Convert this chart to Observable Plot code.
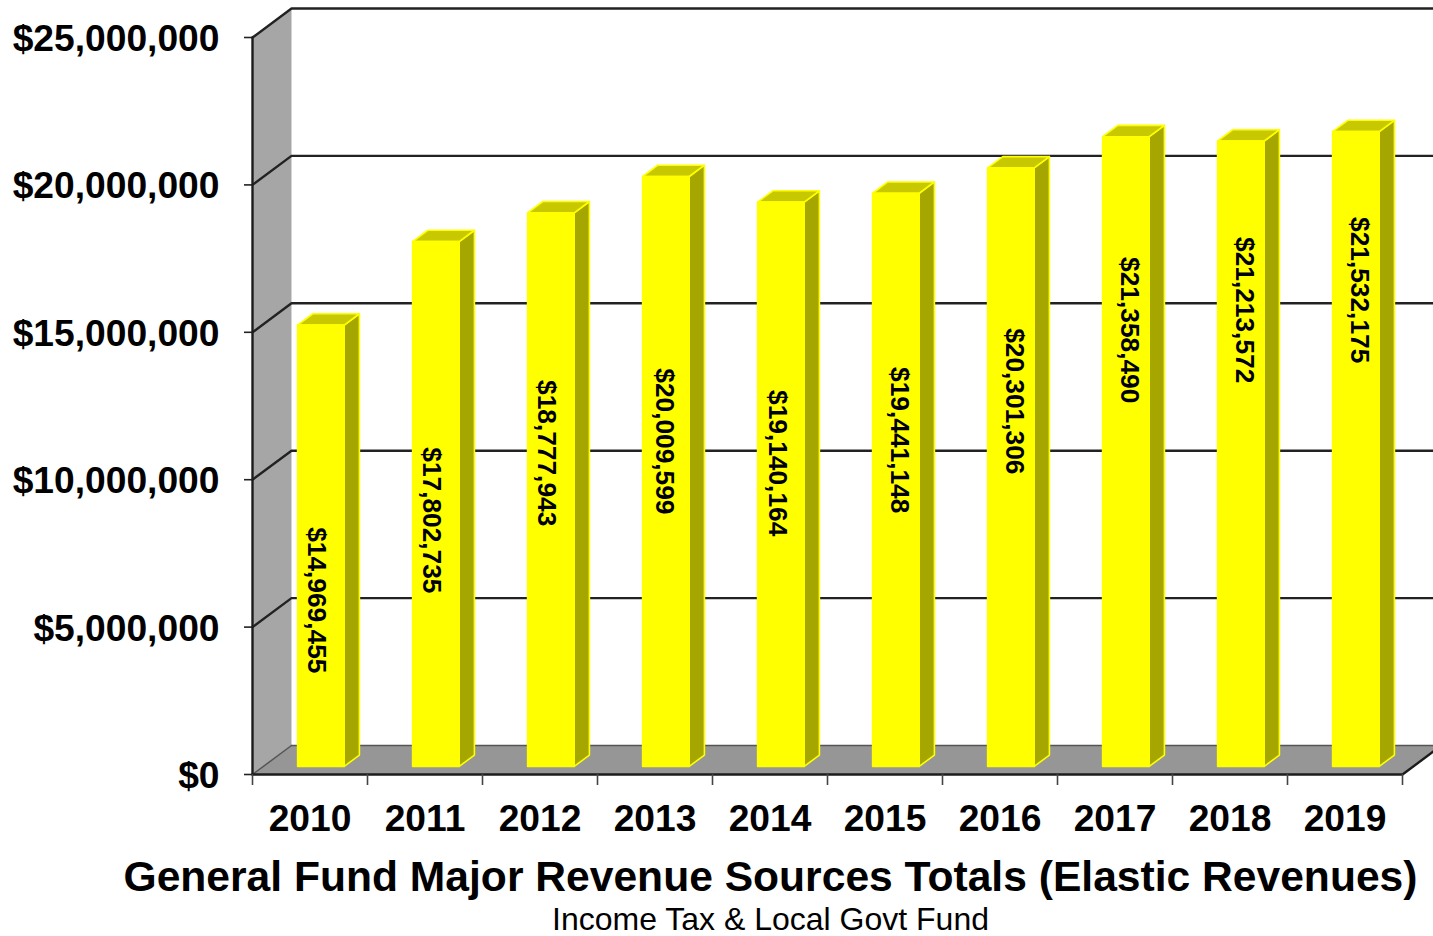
<!DOCTYPE html>
<html>
<head>
<meta charset="utf-8">
<title>General Fund Major Revenue Sources Totals</title>
<script src="https://cdn.jsdelivr.net/npm/d3@7"></script>
<script src="https://cdn.jsdelivr.net/npm/@observablehq/plot@0.6"></script>
<style>
  html, body { margin: 0; background: #fff; overflow: hidden; }
  body { width: 1433px; height: 936px; font-family: "Liberation Sans", Arial, sans-serif; color: #000; position: relative; }
  svg { display: block; }
  .head { position: absolute; left: 54px; width: 1433px; text-align: center; white-space: nowrap; }
  #title { top: 852px; font-size: 42.6px; font-weight: bold; line-height: 48px; }
  #subtitle { top: 901px; font-size: 32px; line-height: 36px; }
</style>
</head>
<body>
<div id="chart"></div>
<div id="title" class="head">General Fund Major Revenue Sources Totals (Elastic Revenues)</div>
<div id="subtitle" class="head">Income Tax &amp; Local Govt Fund</div>
<script>
// Yearly totals, in dollars
const years = [2010, 2011, 2012, 2013, 2014, 2015, 2016, 2017, 2018, 2019];
const totals = [14969455, 17802735, 18777943, 20009599, 19140164, 19441148, 20301306, 21358490, 21213572, 21532175];

// Where each rotated value label sits, in axis units
const labelYears = [2010.056, 2011.056, 2012.056, 2013.082, 2014.065, 2015.126, 2016.126, 2017.126, 2018.126, 2019.126];
const labelLevels = [5910000, 8620000, 10900000, 11300000, 10560000, 11340000, 12660000, 15070000, 15750000, 16430000];

const dollarTicks = [0, 5000000, 10000000, 15000000, 20000000, 25000000];
const yearEdges = d3.range(2009.5, 2020, 1);

// The box recedes up and to the right: depth 1 is the back wall
const depthYears = 0.339;
const depthDollars = 984000;
const barWidth = 0.405;
const barFront = 0.28;
const barBack = 0.67;

const at = (x, y, depth = 0) => ({x: x + depth * depthYears, y: y + depth * depthDollars});
const shape = (id, ...corners) => corners.concat(corners[0]).map((c) => ({...c, id}));
const xMin = yearEdges[0];
const xMax = yearEdges[yearEdges.length - 1];
const yMax = dollarTicks[dollarTicks.length - 1];

const wall = shape("wall", at(xMin, 0), at(xMin, 0, 1), at(xMin, yMax, 1), at(xMin, yMax));
const floor = shape("floor", at(xMin, 0), at(xMin, 0, 1), at(xMax, 0, 1), at(xMax, 0));

// Grid lines wrap from the front edge of the wall along the back wall
const grid = dollarTicks.slice(1).flatMap((v) =>
  [at(xMin, v), at(xMin, v, 1), at(xMax, v, 1)].map((c) => ({...c, id: v})));
const floorEdges = [
  ...[at(xMin, 0), at(xMin, 0, 1)].map((c) => ({...c, id: "left"})),
  ...[at(xMin, 0, 1), at(xMax, 0, 1)].map((c) => ({...c, id: "back"}))
];
const frontEdges = [
  ...[at(xMin, 0), at(xMin, yMax)].map((c) => ({...c, id: "wall"})),
  ...[at(xMin, 0), at(xMax, 0), at(xMax, 0, 1)].map((c) => ({...c, id: "floor"}))
];

const bars = years.map((year, i) => ({
  year,
  value: totals[i],
  l: year - barWidth / 2,
  r: year + barWidth / 2
}));
const sides = bars.flatMap((b) => shape(b.year,
  at(b.r, 0, barFront), at(b.r, 0, barBack), at(b.r, b.value, barBack), at(b.r, b.value, barFront)));
const tops = bars.flatMap((b) => shape(b.year,
  at(b.l, b.value, barFront), at(b.l, b.value, barBack), at(b.r, b.value, barBack), at(b.r, b.value, barFront)));
const fronts = bars.flatMap((b) => shape(b.year,
  at(b.l, 0, barFront), at(b.l, b.value, barFront), at(b.r, b.value, barFront), at(b.r, 0, barFront)));

const solid = (rows, fill, stroke = "none", strokeWidth = 0) =>
  Plot.line(rows, {x: "x", y: "y", z: "id", fill, stroke, strokeWidth});
const edge = (rows, stroke, strokeWidth) =>
  Plot.line(rows, {x: "x", y: "y", z: "id", stroke, strokeWidth});

const money = d3.format("$,");
const axisFont = {fontSize: 37.2, fontWeight: "bold", fill: "#000"};

const chart = Plot.plot({
  width: 1433,
  height: 850,
  marginTop: 37,
  marginBottom: 76,
  marginLeft: 252,
  marginRight: 31,
  style: {fontFamily: '"Liberation Sans", Arial, sans-serif', background: "#fff", color: "#000"},
  x: {domain: [xMin, xMax], axis: null},
  y: {domain: [0, yMax], axis: null},
  marks: [
    solid(wall, "#a6a6a6"),
    solid(floor, "#969696"),
    edge(grid, "#222", 2.4),
    edge(floorEdges, "#555", 1.5),
    edge(frontEdges, "#1c1c1c", 2.4),
    Plot.axisY({ticks: dollarTicks, tickSize: 8, stroke: "#222", strokeWidth: 1.6, tickFormat: () => "", label: null}),
    Plot.axisY({ticks: dollarTicks, tickSize: 0, tickPadding: 33, dy: 1.5, tickFormat: money, label: null, ...axisFont}),
    Plot.axisX({ticks: yearEdges, tickSize: 11, stroke: "#444", strokeWidth: 1.6, tickFormat: () => "", label: null}),
    Plot.axisX({ticks: years, tickSize: 0, tickPadding: 30, tickFormat: "d", label: null, ...axisFont}),
    solid(sides, "#a6a600", "#ffff00", 1.6),
    solid(tops, "#c8c800", "#ffff00", 1.6),
    solid(fronts, "#ffff00", "#ffff00", 1.6),
    Plot.text(years, {
      x: (d, i) => labelYears[i],
      y: (d, i) => labelLevels[i],
      text: (d, i) => money(totals[i]),
      rotate: 90,
      fontSize: 26.3,
      fontWeight: "bold",
      fill: "#000"
    })
  ]
});
document.getElementById("chart").append(chart);
</script>
</body>
</html>
